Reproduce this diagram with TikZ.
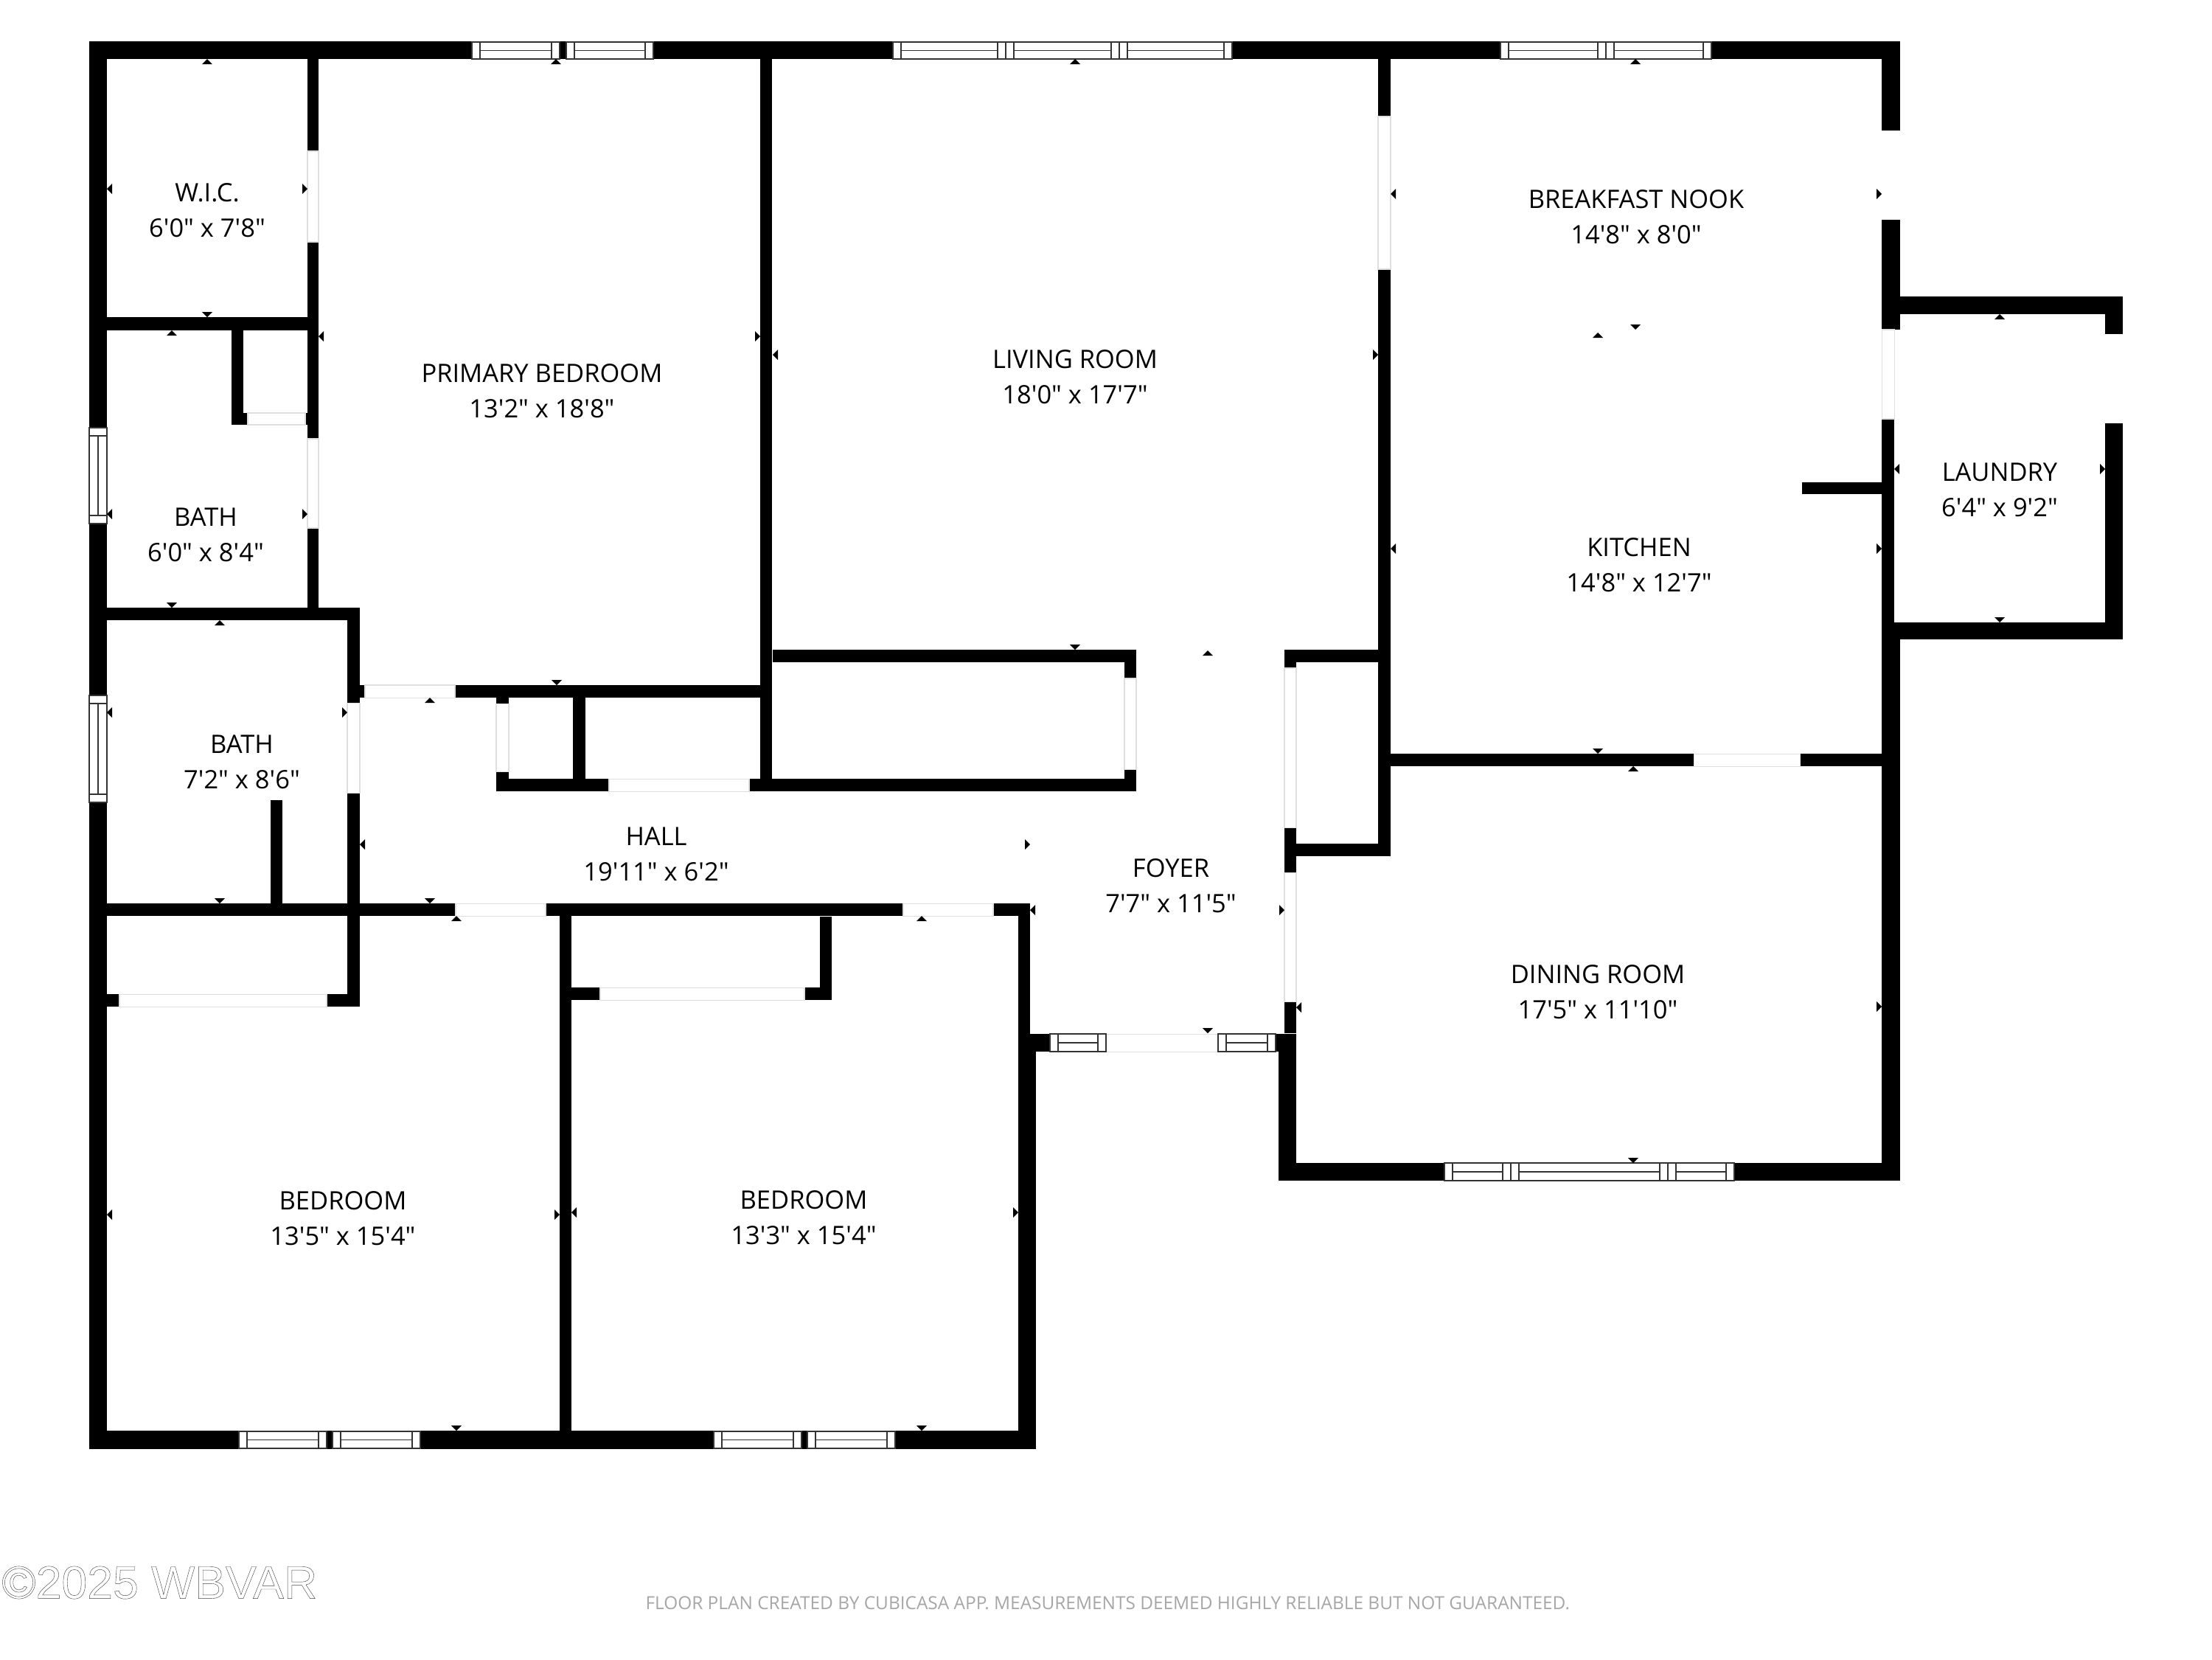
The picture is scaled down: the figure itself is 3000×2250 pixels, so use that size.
\documentclass[tikz,border=0pt]{standalone}
\usepackage{fontspec}
\newfontfamily\roomfont{Open Sans}
\newfontfamily\markfont{Liberation Sans}
\tikzset{
    wall/.style={fill=black},
    door/.style={fill=white, draw=gray!25, line width=0.3pt},
    pane/.style={fill=white, draw=black!80, line width=0.35pt},
    sash/.style={draw=black!80, line width=0.35pt},
    tick/.style={fill=black},
    room/.style={align=center, inner sep=0pt, font=\roomfont\fontsize{9.8}{13.66}\selectfont},
    credit/.style={inner sep=0pt, text=black!35, font=\roomfont\fontsize{6.94}{8}\selectfont},
    stamp/.style={inner sep=0pt, font=\markfont\fontsize{17.8}{20}\selectfont}
}
\begin{document}
\begin{tikzpicture}[x=0.01cm, y=-0.01cm, line width=0.01cm]
    \useasboundingbox (0,0) rectangle (3000,2250);

    % walls
    \foreach \xa/\ya/\xb/\yb in {
        121/56/2577/80, 121/56/145/1965, 121/1940/1405/1965,
        417/80/432/205, 417/328/432/595, 417/716/432/825,
        145/430/432/448, 314/448/330/576, 314/560/336/576, 414/560/417/576,
        145/824/488/841, 471/824/488/953, 471/929/495/946,
        471/1075/488/1365, 443/1348/488/1365, 145/1348/162/1365,
        367/1085/383/1225, 145/1225/618/1242, 740/1225/1225/1242, 1347/1225/1397/1242,
        759/1225/775/1965, 775/1339/814/1356, 1091/1339/1128/1356, 1112/1243/1128/1356,
        1381/1225/1397/1426, 1381/1402/1424/1426, 1381/1402/1405/1965,
        617/929/1047/946, 673/946/690/954, 673/1046/690/1073, 673/1056/826/1073,
        777/946/794/1056, 1031/80/1047/1073, 1016/1056/1541/1073,
        1048/881/1541/898, 1525/881/1541/920, 1525/1043/1541/1073,
        1869/80/1886/158, 1869/365/1886/1161,
        1742/881/1869/898, 1742/881/1758/906, 1742/1122/1758/1183, 1742/1144/1886/1161,
        1742/1358/1758/1401, 1730/1402/1758/1426, 1734/1402/1758/1601,
        1734/1577/1959/1601, 2352/1577/2577/1601,
        2552/56/2577/177, 2552/298/2577/447, 2552/402/2879/426,
        2552/568/2569/867, 2552/867/2577/1601, 2552/844/2879/867,
        2855/402/2879/453, 2855/574/2879/867,
        2444/654/2552/670, 1886/1022/2297/1039, 2441/1022/2552/1039}
        \fill[wall] (\xa,\ya) rectangle (\xb,\yb);

    % doors
    \foreach \xa/\ya/\xb/\yb in {
        417/205/432/328, 417/595/432/716, 336/560/414/576,
        495/929/617/946, 471/953/488/1075, 673/954/690/1046, 826/1056/1016/1073,
        618/1225/740/1242, 1225/1225/1347/1242, 162/1348/443/1365, 814/1339/1091/1356,
        1500/1402/1652/1426, 1525/920/1541/1043, 1742/906/1758/1122, 1742/1183/1758/1358,
        1869/158/1886/365, 2552/447/2569/568, 2297/1022/2441/1039}
        \draw[door] (\xa,\ya) rectangle (\xb,\yb);
    \fill[white] (2552,177) rectangle (2577,298);
    \fill[white] (2855,453) rectangle (2879,574);

    % windows along a horizontal wall
    \foreach \xa/\xb/\ya/\yb in {
        640/759/57/80, 768/886/57/80,
        1211/1364/57/80, 1364/1518/57/80, 1518/1671/57/80,
        2035/2178/57/80, 2178/2321/57/80,
        1424/1500/1402/1426, 1652/1730/1402/1426,
        1959/2049/1577/1601, 2049/2262/1577/1601, 2262/2352/1577/1601,
        324/443/1941/1964, 451/570/1941/1964, 968/1087/1941/1964, 1095/1214/1941/1964} {
        \draw[pane] (\xa,\ya) rectangle (\xb,\yb);
        \draw[sash] (\xa+11,\ya) -- (\xa+11,\yb);
        \draw[sash] (\xb-11,\ya) -- (\xb-11,\yb);
        \draw[sash] (\xa+11,{(\ya+\yb)/2}) -- (\xb-11,{(\ya+\yb)/2});
    }

    % windows along the left wall
    \foreach \ya/\yb in {580/710, 943/1088} {
        \draw[pane] (121,\ya) rectangle (145,\yb);
        \draw[sash] (121,\ya+11) -- (145,\ya+11);
        \draw[sash] (121,\yb-11) -- (145,\yb-11);
        \draw[sash] (133,\ya+11) -- (133,\yb-11);
    }

    % small wall ticks
    \foreach \x/\y in {
        281/80, 754/80, 233/448, 298/841, 583/946, 619/1242, 1458/80, 1638/882,
        1250/1242, 2218/80, 2167/451, 2712/426, 2215/1039}
        \fill[tick] (\x,\y) -- ++(-7,7) -- ++(14,0) -- cycle;
    \foreach \x/\y in {
        281/430, 233/824, 755/929, 298/1225, 583/1225, 1458/881, 1638/1401,
        2218/447, 2712/844, 619/1940, 1250/1940, 2215/1577, 2167/1022}
        \fill[tick] (\x,\y) -- ++(-7,-7) -- ++(14,0) -- cycle;
    \foreach \x/\y in {
        145/256, 432/456, 1048/481, 145/697, 2569/636, 145/966, 488/1145, 145/1647,
        775/1644, 1397/1234, 1758/1366, 1886/744, 1886/263}
        \fill[tick] (\x,\y) -- ++(7,-7) -- ++(0,14) -- cycle;
    \foreach \x/\y in {
        417/256, 1031/456, 1869/481, 417/697, 2552/263, 2552/744, 2855/636, 471/966,
        1397/1145, 1742/1234, 2552/1365, 759/1647, 1381/1644}
        \fill[tick] (\x,\y) -- ++(-7,-7) -- ++(0,14) -- cycle;

    % room names
    \node[room] (wic) at (281,285) {W.I.C.\\6'0" x 7'8"};
    \node[room] (primary) at (735,530) {PRIMARY BEDROOM\\13'2" x 18'8"};
    \node[room] (bathupper) at (279,725) {BATH\\6'0" x 8'4"};
    \node[room] (bathlower) at (328,1033) {BATH\\7'2" x 8'6"};
    \node[room] (hall) at (890,1158) {HALL\\19'11" x 6'2"};
    \node[room] (living) at (1458,511) {LIVING ROOM\\18'0" x 17'7"};
    \node[room] (nook) at (2219,294) {BREAKFAST NOOK\\14'8" x 8'0"};
    \node[room] (kitchen) at (2223,766) {KITCHEN\\14'8" x 12'7"};
    \node[room] (laundry) at (2712,664) {LAUNDRY\\6'4" x 9'2"};
    \node[room] (foyer) at (1588,1201) {FOYER\\7'7" x 11'5"};
    \node[room] (dining) at (2167,1345) {DINING ROOM\\17'5" x 11'10"};
    \node[room] (bedleft) at (465,1652) {BEDROOM\\13'5" x 15'4"};
    \node[room] (bedright) at (1090,1651) {BEDROOM\\13'3" x 15'4"};

    % footer
    \node[credit, anchor=west] (credit) at (875,2174) {FLOOR PLAN CREATED BY CUBICASA APP. MEASUREMENTS DEEMED HIGHLY RELIABLE BUT NOT GUARANTEED.};
    \node[stamp, anchor=west] (stamp) at (2,2146) {\special{pdf:code q 1 Tr 0.12 w 0.25 G}\textcopyright 2025 WBVAR\special{pdf:code Q}};
\end{tikzpicture}
\end{document}
